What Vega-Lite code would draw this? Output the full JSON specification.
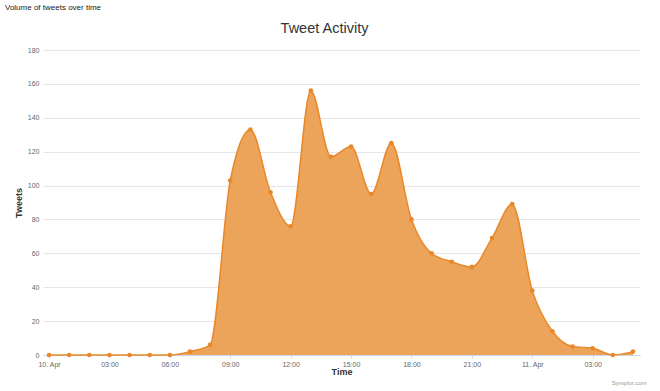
{
  "$schema": "https://vega.github.io/schema/vega-lite/v6.json",
  "width": 597,
  "height": 305,
  "autosize": {"type": "none"},
  "padding": {"left": 43, "top": 50, "right": 20, "bottom": 36},
  "config": {"view": {"stroke": null}, "font": "Liberation Sans"},
  "title": {
    "text": "Volume of tweets over time",
    "fontSize": 8,
    "fontWeight": "normal",
    "color": "#222222",
    "anchor": "start",
    "frame": "group",
    "dx": -38,
    "baseline": "alphabetic",
    "offset": 2
  },
  "data": {
    "values": [
      {"time": "2015-04-10T00:00:00Z", "tweets": 0},
      {"time": "2015-04-10T01:00:00Z", "tweets": 0},
      {"time": "2015-04-10T02:00:00Z", "tweets": 0},
      {"time": "2015-04-10T03:00:00Z", "tweets": 0},
      {"time": "2015-04-10T04:00:00Z", "tweets": 0},
      {"time": "2015-04-10T05:00:00Z", "tweets": 0},
      {"time": "2015-04-10T06:00:00Z", "tweets": 0},
      {"time": "2015-04-10T07:00:00Z", "tweets": 2},
      {"time": "2015-04-10T08:00:00Z", "tweets": 6},
      {"time": "2015-04-10T09:00:00Z", "tweets": 103},
      {"time": "2015-04-10T10:00:00Z", "tweets": 133},
      {"time": "2015-04-10T11:00:00Z", "tweets": 96},
      {"time": "2015-04-10T12:00:00Z", "tweets": 76},
      {"time": "2015-04-10T13:00:00Z", "tweets": 156},
      {"time": "2015-04-10T14:00:00Z", "tweets": 117},
      {"time": "2015-04-10T15:00:00Z", "tweets": 123},
      {"time": "2015-04-10T16:00:00Z", "tweets": 95},
      {"time": "2015-04-10T17:00:00Z", "tweets": 125},
      {"time": "2015-04-10T18:00:00Z", "tweets": 80},
      {"time": "2015-04-10T19:00:00Z", "tweets": 60},
      {"time": "2015-04-10T20:00:00Z", "tweets": 55},
      {"time": "2015-04-10T21:00:00Z", "tweets": 52},
      {"time": "2015-04-10T22:00:00Z", "tweets": 69},
      {"time": "2015-04-10T23:00:00Z", "tweets": 89},
      {"time": "2015-04-11T00:00:00Z", "tweets": 38},
      {"time": "2015-04-11T01:00:00Z", "tweets": 14},
      {"time": "2015-04-11T02:00:00Z", "tweets": 5},
      {"time": "2015-04-11T03:00:00Z", "tweets": 4},
      {"time": "2015-04-11T04:00:00Z", "tweets": 0},
      {"time": "2015-04-11T05:00:00Z", "tweets": 2}
    ]
  },
  "layer": [
    {
      "mark": {
        "type": "area",
        "interpolate": "monotone",
        "color": "#eca45a",
        "opacity": 1,
        "line": {"color": "#e8882a", "strokeWidth": 1.5}
      },
      "encoding": {
        "x": {
          "field": "time",
          "type": "temporal",
          "scale": {
            "domain": [
              {"year": 2015, "month": 4, "date": 9, "hours": 23, "minutes": 42, "utc": true},
              {"year": 2015, "month": 4, "date": 11, "hours": 5, "minutes": 21, "utc": true}
            ]
          },
          "axis": {
            "orient": "bottom",
            "title": "Time",
            "titleFontSize": 9,
            "titleFontWeight": "bold",
            "titleColor": "#333333",
            "titleAlign": "center",
            "titleBaseline": "alphabetic",
            "titleX": 298.5,
            "titleY": 19,
            "values": [
              {"year": 2015, "month": 4, "date": 10, "hours": 0, "utc": true},
              {"year": 2015, "month": 4, "date": 10, "hours": 3, "utc": true},
              {"year": 2015, "month": 4, "date": 10, "hours": 6, "utc": true},
              {"year": 2015, "month": 4, "date": 10, "hours": 9, "utc": true},
              {"year": 2015, "month": 4, "date": 10, "hours": 12, "utc": true},
              {"year": 2015, "month": 4, "date": 10, "hours": 15, "utc": true},
              {"year": 2015, "month": 4, "date": 10, "hours": 18, "utc": true},
              {"year": 2015, "month": 4, "date": 10, "hours": 21, "utc": true},
              {"year": 2015, "month": 4, "date": 11, "hours": 0, "utc": true},
              {"year": 2015, "month": 4, "date": 11, "hours": 3, "utc": true}
            ],
            "labelExpr": "utchours(datum.value) == 0 ? utcFormat(datum.value, '%d. %b') : utcFormat(datum.value, '%H:%M')",
            "labelFontSize": 7,
            "labelColor": "#666666",
            "labelPadding": 2,
            "labelFlush": false,
            "labelOverlap": false,
            "tickSize": 3,
            "tickColor": "#ccd6eb",
            "domainColor": "#ccd6eb",
            "grid": false
          }
        },
        "y": {
          "field": "tweets",
          "type": "quantitative",
          "scale": {"domain": [0, 180], "nice": false},
          "axis": {
            "orient": "left",
            "title": "Tweets",
            "titleFontSize": 9,
            "titleFontWeight": "bold",
            "titleColor": "#333333",
            "titleBaseline": "alphabetic",
            "titleX": -22,
            "values": [0, 20, 40, 60, 80, 100, 120, 140, 160, 180],
            "labelFontSize": 7,
            "labelColor": "#666666",
            "labelPadding": 4,
            "ticks": false,
            "domain": false,
            "grid": true,
            "gridColor": "#e6e6e6",
            "gridWidth": 1
          }
        }
      }
    },
    {
      "mark": {"type": "point", "filled": true, "color": "#e8882a", "size": 22, "opacity": 1},
      "encoding": {
        "x": {
          "field": "time",
          "type": "temporal",
          "axis": {
            "orient": "top",
            "title": "Tweet Activity",
            "titleFontSize": 14.5,
            "titleFontWeight": "normal",
            "titleColor": "#333333",
            "titleAlign": "center",
            "titleBaseline": "alphabetic",
            "titleX": 281,
            "titleY": -18,
            "labels": false,
            "ticks": false,
            "domain": false,
            "grid": false
          }
        },
        "y": {
          "field": "tweets",
          "type": "quantitative",
          "axis": {
            "orient": "right",
            "title": "Symplur.com",
            "titleFontSize": 6,
            "titleFontWeight": "normal",
            "titleColor": "#999999",
            "titleAngle": 0,
            "titleAlign": "right",
            "titleBaseline": "alphabetic",
            "titleX": 6,
            "titleY": 334,
            "labels": false,
            "ticks": false,
            "domain": false,
            "grid": false
          }
        }
      }
    }
  ],
  "resolve": {"axis": {"x": "independent", "y": "independent"}}
}
